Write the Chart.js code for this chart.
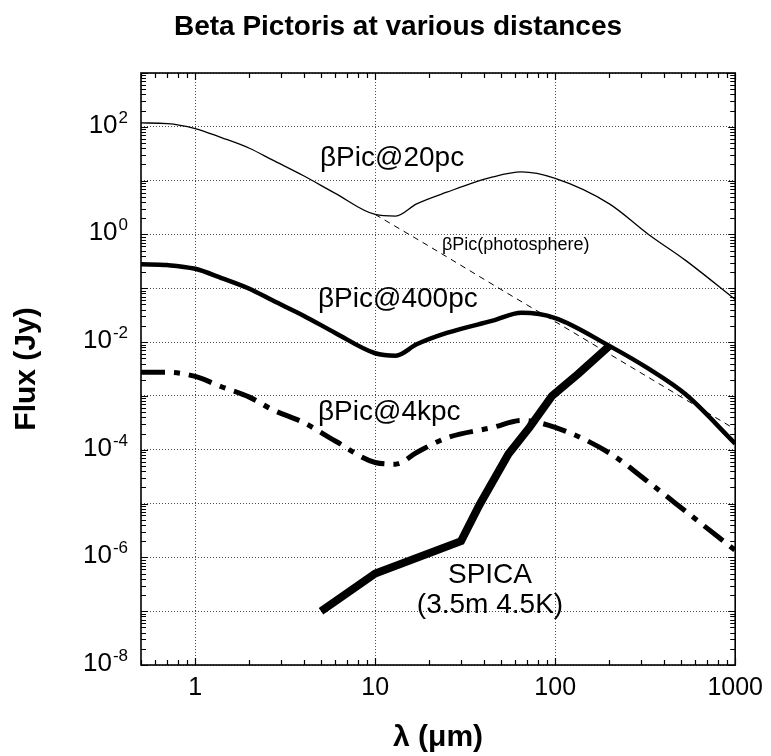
<!DOCTYPE html>
<html>
<head>
<meta charset="utf-8">
<script src="https://cdn.jsdelivr.net/npm/chart.js@4.4.1/dist/chart.umd.min.js"></script>
<style>
  html, body { margin: 0; padding: 0; background: #fff; }
  canvas { display: block; }
</style>
</head>
<body>
<canvas id="sedChart" width="771" height="756"></canvas>
<script>
// wavelengths (um) shared by the three beta Pic curves
const lambdaPic = [0.5, 0.7, 1, 1.4, 2, 2.7, 4, 6, 10, 13, 17, 25, 45, 65, 100, 200, 330, 530, 1000];
const flux20pc  = [118, 115, 93, 63, 40, 24, 12.3, 5.8, 2.35, 2.2, 3.7, 6.1, 11.7, 14.5, 11, 3.7, 1.0, 0.33, 0.062];
const flux400pc = [0.28, 0.27, 0.23, 0.155, 0.098, 0.059, 0.031, 0.0148, 0.0062, 0.0056, 0.0091, 0.0148, 0.025, 0.035, 0.028, 0.0085, 0.0032, 0.00107, 0.00013];
const flux4kpc  = [0.00275, 0.00275, 0.0023, 0.00148, 0.00095, 0.00055, 0.00032, 0.000145, 5.8e-5, 5.4e-5, 8.9e-5, 1.66e-4, 2.6e-4, 3.5e-4, 2.6e-4, 8.7e-5, 2.5e-5, 7.2e-6, 1.35e-6];

// photosphere only (dashed)
const lambdaPhot = [10, 20, 50, 100, 200, 500, 1000];
const fluxPhot   = [2.35, 0.6, 0.095, 0.024, 0.006, 0.00096, 0.00024];

// SPICA sensitivity
const lambdaSpica = [5, 10, 30, 38, 55, 72, 96, 135, 200];
const fluxSpica   = [1e-7, 5e-7, 2e-6, 9.5e-6, 8.3e-5, 2.6e-4, 1e-3, 2.6e-3, 8.5e-3];

// axis ticks
const xTickValues = [1, 10, 100, 1000];
const yGridValues = [1e-8, 1e-7, 1e-6, 1e-5, 1e-4, 1e-3, 1e-2, 1e-1, 1, 10, 100, 1000];
const yLabelExps  = [2, 0, -2, -4, -6, -8];

const FONT = '"Liberation Sans", Arial, Helvetica, sans-serif';
const toPts = (xs, ys) => xs.map((x, i) => ({ x: x, y: ys[i] }));

// frame, inward minor ticks, y labels with superscripts, text labels
const decorations = {
  id: 'decorations',
  afterDraw(chart) {
    const ctx = chart.ctx;
    const a = chart.chartArea;
    const xs = chart.scales.x;
    const ys = chart.scales.y;
    ctx.save();

    // ticks on all four sides
    ctx.strokeStyle = '#000';
    ctx.lineWidth = 1.2;
    ctx.beginPath();
    for (let n = -1; n <= 3; n++) {
      for (let k = 1; k <= 9; k++) {
        const v = k * Math.pow(10, n);
        if (v < xs.min || v > xs.max) continue;
        const px = Math.round(xs.getPixelForValue(v)) + 0.5;
        const len = k === 1 ? 7 : 5;
        ctx.moveTo(px, a.bottom); ctx.lineTo(px, a.bottom - len);
        ctx.moveTo(px, a.top); ctx.lineTo(px, a.top + len);
      }
    }
    for (let n = -8; n <= 3; n++) {
      for (let k = 1; k <= 9; k++) {
        const v = k * Math.pow(10, n);
        if (v < ys.min || v > ys.max) continue;
        const py = Math.round(ys.getPixelForValue(v)) + 0.5;
        const len = k === 1 ? 7 : 5;
        ctx.moveTo(a.left, py); ctx.lineTo(a.left + len, py);
        ctx.moveTo(a.right, py); ctx.lineTo(a.right - len, py);
      }
    }
    ctx.stroke();

    // frame
    ctx.lineWidth = 1.6;
    ctx.strokeRect(a.left, a.top, a.right - a.left, a.bottom - a.top);

    // y tick labels 10^n
    ctx.fillStyle = '#000';
    ctx.textAlign = 'left';
    ctx.textBaseline = 'alphabetic';
    yLabelExps.forEach(e => {
      const py = ys.getPixelForValue(Math.pow(10, e));
      const expStr = String(e);
      ctx.font = '17px ' + FONT;
      const ew = ctx.measureText(expStr).width;
      ctx.font = '26px ' + FONT;
      const bw = ctx.measureText('10').width;
      const right = 128;
      ctx.fillText('10', right - ew - bw - 1, py + 6);
      ctx.font = '17px ' + FONT;
      ctx.fillText(expStr, right - ew, py - 4);
    });

    // title
    ctx.font = 'bold 28px ' + FONT;
    ctx.textAlign = 'center';
    ctx.fillText('Beta Pictoris at various distances', 398, 35);

    // curve labels
    ctx.textAlign = 'left';
    ctx.font = '28px ' + FONT;
    ctx.fillText('\u03b2Pic@20pc', 320, 166);
    ctx.fillText('\u03b2Pic@400pc', 318, 307);
    ctx.fillText('\u03b2Pic@4kpc', 318, 420);
    ctx.font = '18px ' + FONT;
    ctx.fillText('\u03b2Pic(photosphere)', 442, 250);
    ctx.textAlign = 'center';
    ctx.font = '28px ' + FONT;
    ctx.fillText('SPICA', 490, 583);
    ctx.fillText('(3.5m 4.5K)', 490, 613);

    ctx.restore();
  }
};

new Chart(document.getElementById('sedChart'), {
  type: 'line',
  data: {
    datasets: [
      {
        label: 'SPICA',
        data: toPts(lambdaSpica, fluxSpica),
        borderColor: '#000', borderWidth: 8, tension: 0,
        borderCapStyle: 'butt', borderJoinStyle: 'miter'
      },
      {
        label: 'bPic@20pc',
        data: toPts(lambdaPic, flux20pc),
        borderColor: '#000', borderWidth: 1.3, cubicInterpolationMode: 'monotone'
      },
      {
        label: 'bPic(photosphere)',
        data: toPts(lambdaPhot, fluxPhot),
        borderColor: '#000', borderWidth: 1, borderDash: [6, 5], cubicInterpolationMode: 'monotone'
      },
      {
        label: 'bPic@400pc',
        data: toPts(lambdaPic, flux400pc),
        borderColor: '#000', borderWidth: 4.5, cubicInterpolationMode: 'monotone'
      },
      {
        label: 'bPic@4kpc',
        data: toPts(lambdaPic, flux4kpc),
        borderColor: '#000', borderWidth: 5, borderDash: [24, 9, 6, 9],
        borderCapStyle: 'butt', cubicInterpolationMode: 'monotone'
      }
    ]
  },
  options: {
    responsive: false,
    animation: false,
    devicePixelRatio: 1,
    layout: { padding: { top: 73, right: 34, left: 0, bottom: 0 } },
    elements: { point: { radius: 0 } },
    plugins: { legend: { display: false }, tooltip: { enabled: false } },
    scales: {
      x: {
        type: 'logarithmic',
        min: 0.5, max: 1000,
        afterBuildTicks: s => { s.ticks = xTickValues.map(v => ({ value: v })); },
        afterFit: s => { s.height = 91; },
        ticks: {
          autoSkip: false, maxRotation: 0, padding: 8, color: '#000',
          font: { family: FONT, size: 25 },
          callback: v => String(v)
        },
        grid: { color: 'rgba(0,0,0,0.7)', lineWidth: 1, drawTicks: false },
        border: { display: false, dash: [1, 2] },
        title: {
          display: true, text: '\u03bb (\u03bcm)', color: '#000',
          font: { family: FONT, size: 30, weight: 'bold' },
          padding: { top: 0, bottom: 0 }
        }
      },
      y: {
        type: 'logarithmic',
        min: 1e-8, max: 1e3,
        afterBuildTicks: s => { s.ticks = yGridValues.map(v => ({ value: v })); },
        afterFit: s => { s.width = 141; },
        ticks: { display: false },
        grid: { color: 'rgba(0,0,0,0.7)', lineWidth: 1, drawTicks: false },
        border: { display: false, dash: [1, 2] },
        title: {
          display: true, text: 'Flux (Jy)', color: '#000',
          font: { family: FONT, size: 30, weight: 'bold' },
          padding: { top: 9, bottom: 0 }
        }
      }
    }
  },
  plugins: [decorations]
});
</script>
</body>
</html>
